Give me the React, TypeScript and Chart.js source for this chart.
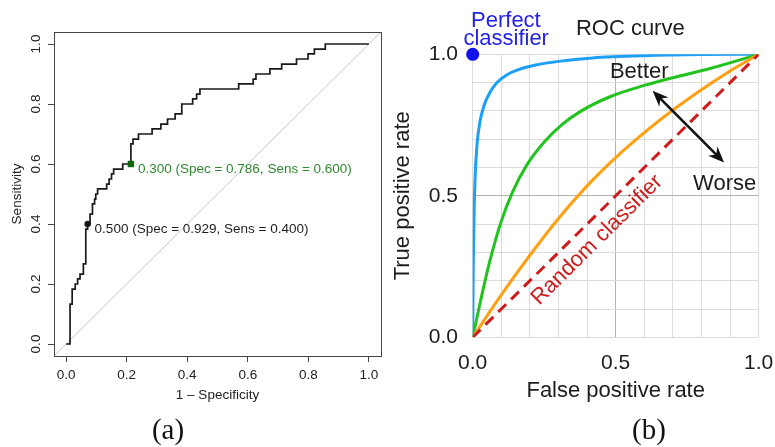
import React, { useEffect, useRef } from 'react';
import { Chart, registerables } from 'chart.js';

Chart.register(...registerables);

const SANS = '"Liberation Sans", Arial, Helvetica, sans-serif';
const SERIF = '"Liberation Serif", "Times New Roman", Times, serif';

// ---------- Panel (a): empirical ROC curve ----------
// 1 - specificity at which sensitivity rises, and the sensitivity after the rise
const rocFpr = [0, 0.013, 0.02, 0.03, 0.038, 0.046, 0.057, 0.065, 0.071, 0.079, 0.087, 0.094, 0.098, 0.104, 0.134, 0.142, 0.15, 0.157, 0.187, 0.214, 0.221, 0.239, 0.284, 0.313, 0.335, 0.36, 0.382, 0.418, 0.431, 0.442, 0.57, 0.618, 0.627, 0.673, 0.712, 0.761, 0.799, 0.82, 0.856, 1];
const rocSens = [0, 0.133, 0.183, 0.2, 0.217, 0.233, 0.267, 0.383, 0.4, 0.433, 0.467, 0.483, 0.5, 0.517, 0.533, 0.55, 0.567, 0.583, 0.6, 0.667, 0.683, 0.7, 0.717, 0.733, 0.75, 0.767, 0.8, 0.817, 0.833, 0.85, 0.867, 0.883, 0.9, 0.917, 0.933, 0.95, 0.967, 0.983, 1, 1];
const chanceEnds = [-0.04, 1.04];
const ticksA = [0, 0.2, 0.4, 0.6, 0.8, 1];
// printed thresholds
const cutValues = [0.5, 0.3];
const cutSpec = [0.929, 0.786];
const cutSens = [0.4, 0.6];

// ---------- Panel (b): schematic ROC curves ----------
const excellentFpr = [0, 0.002, 0.005, 0.009, 0.015, 0.025, 0.04, 0.06, 0.085, 0.12, 0.16, 0.22, 0.3, 0.42, 0.6, 0.8, 1];
const excellentTpr = [0, 0.25, 0.45, 0.58, 0.68, 0.76, 0.82, 0.865, 0.9, 0.928, 0.946, 0.962, 0.975, 0.987, 0.995, 0.999, 1];
const goodFpr = [0, 0.03, 0.06, 0.1, 0.14, 0.19, 0.25, 0.31, 0.38, 0.48, 0.6, 0.71, 0.83, 1];
const goodTpr = [0, 0.14, 0.27, 0.41, 0.515, 0.61, 0.69, 0.75, 0.8, 0.85, 0.89, 0.92, 0.95, 1];
const fairFpr = [0, 0.1, 0.2, 0.3, 0.4, 0.5, 0.6, 0.7, 0.8, 0.9, 1];
const fairTpr = [0, 0.15, 0.29, 0.42, 0.535, 0.635, 0.723, 0.803, 0.875, 0.941, 1];
const randomRate = [0, 1];
const perfectPoint = [0, 1];
const gridB = [0, 0.1, 0.2, 0.3, 0.4, 0.5, 0.6, 0.7, 0.8, 0.9, 1];
const labeledB = [0, 0.5, 1];

const INK = '#1c1c1c';
const BLUE_TEXT = '#2323e8';
const RED = '#cf1b1b';

// text placement for panel (b), in axis units
const notesB = [
  { text: 'Perfect', x: 0.116, y: 1.0975, color: BLUE_TEXT },
  { text: 'classifier', x: 0.117, y: 1.033, color: BLUE_TEXT },
  { text: 'ROC curve', x: 0.551, y: 1.068, color: INK },
  { text: 'Better', x: 0.5825, y: 0.918, color: INK },
  { text: 'Worse', x: 0.881, y: 0.522, color: INK },
];
const diagNote = { text: 'Random classifier', x: 0.435, y: 0.344 };
const arrowEnds = { x1: 0.629, y1: 0.871, x2: 0.879, y2: 0.618 };

const pts = (xs: number[], ys: number[]) => xs.map((x, i) => ({ x, y: ys[i] }));

// ---------- panel (a) plugins ----------
const boxPlugin = {
  id: 'frameBox',
  afterDatasetsDraw(chart: any) {
    const { ctx, chartArea: a } = chart;
    ctx.save();
    ctx.strokeStyle = '#444';
    ctx.lineWidth = 1;
    ctx.strokeRect(Math.round(a.left) + 0.5, Math.round(a.top) + 0.5, Math.round(a.right - a.left), Math.round(a.bottom - a.top));
    ctx.restore();
  },
};

const sideLabels = {
  id: 'sideLabels',
  afterDraw(chart: any) {
    const { ctx } = chart;
    const y = chart.scales.y;
    ctx.save();
    ctx.font = `13.5px ${SANS}`;
    ctx.fillStyle = '#222';
    ctx.textAlign = 'center';
    ctx.textBaseline = 'middle';
    y.ticks.forEach((t: any) => {
      ctx.save();
      ctx.translate(y.right - 18, y.getPixelForValue(t.value));
      ctx.rotate(-Math.PI / 2);
      ctx.fillText(Number(t.value).toFixed(1), 0, 0);
      ctx.restore();
    });
    ctx.restore();
  },
};

const cutLabels = {
  id: 'cutLabels',
  afterDatasetsDraw(chart: any) {
    const { ctx } = chart;
    const { x, y } = chart.scales;
    const colors = ['#1e1e1e', '#2f8a2f'];
    ctx.save();
    ctx.font = `13.5px ${SANS}`;
    ctx.textAlign = 'left';
    ctx.textBaseline = 'middle';
    cutValues.forEach((c, i) => {
      const px = x.getPixelForValue(1 - cutSpec[i]);
      const py = y.getPixelForValue(cutSens[i]);
      ctx.fillStyle = colors[i];
      ctx.fillText(`${c.toFixed(3)} (Spec = ${cutSpec[i].toFixed(3)}, Sens = ${cutSens[i].toFixed(3)})`, px + 7, py + 5);
    });
    ctx.restore();
  },
};

function buildPanelA(): any {
  const tickFont = { family: SANS, size: 13.5 };
  return {
    type: 'line',
    data: {
      datasets: [
        {
          data: pts(rocFpr, rocSens),
          stepped: true,
          borderColor: '#1a1a1a',
          borderWidth: 1.7,
          pointRadius: 0,
          fill: false,
          order: 1,
        },
        {
          data: chanceEnds.map((v) => ({ x: v, y: v })),
          borderColor: '#c6c6c6',
          borderWidth: 1,
          pointRadius: 0,
          fill: false,
          order: 2,
        },
        {
          data: cutValues.map((_, i) => ({ x: 1 - cutSpec[i], y: cutSens[i] })),
          showLine: false,
          pointStyle: ['circle', 'rect'],
          pointRadius: [3, 4.2],
          pointBackgroundColor: ['#111111', '#0b660b'],
          pointBorderColor: ['#111111', '#0b660b'],
          pointBorderWidth: 0.5,
          order: 0,
          clip: false,
        },
      ],
    },
    options: {
      animation: false,
      responsive: false,
      events: [],
      layout: { padding: { left: 0, top: 32, right: 9, bottom: 31 } },
      plugins: { legend: { display: false }, tooltip: { enabled: false } },
      scales: {
        x: {
          type: 'linear',
          min: -0.04,
          max: 1.04,
          bounds: 'data',
          afterBuildTicks: (s: any) => { s.ticks = ticksA.map((v) => ({ value: v })); },
          afterFit: (s: any) => { s.height = 60; s.paddingLeft = 0; s.paddingRight = 0; },
          ticks: { autoSkip: false, maxRotation: 0, padding: 5, font: tickFont, color: '#222', callback: (v: number) => Number(v).toFixed(1) },
          grid: { drawOnChartArea: false, drawTicks: true, tickLength: 6, color: '#444', lineWidth: 1 },
          border: { display: false },
          title: { display: true, text: '1 \u2013 Specificity', font: tickFont, color: '#222', padding: { top: 0, bottom: 13 } },
        },
        y: {
          type: 'linear',
          min: -0.04,
          max: 1.04,
          bounds: 'data',
          afterBuildTicks: (s: any) => { s.ticks = ticksA.map((v) => ({ value: v })); },
          afterFit: (s: any) => { s.width = 54; s.paddingTop = 0; s.paddingBottom = 0; },
          ticks: { display: false },
          grid: { drawOnChartArea: false, drawTicks: true, tickLength: 6, color: '#444', lineWidth: 1 },
          border: { display: false },
          title: { display: true, text: 'Sensitivity', font: tickFont, color: '#222', padding: { top: 9.4, bottom: 0 } },
        },
      },
    },
    plugins: [boxPlugin, sideLabels, cutLabels],
  };
}

// ---------- panel (b) plugins ----------
function arrowHead(ctx: CanvasRenderingContext2D, tx: number, ty: number, ang: number) {
  const len = 16, half = 6.5, notch = 11;
  const c = Math.cos(ang), s = Math.sin(ang);
  ctx.beginPath();
  ctx.moveTo(tx, ty);
  ctx.lineTo(tx - len * c + half * s, ty - len * s - half * c);
  ctx.lineTo(tx - notch * c, ty - notch * s);
  ctx.lineTo(tx - len * c - half * s, ty - len * s + half * c);
  ctx.closePath();
  ctx.fill();
}

const notesPlugin = {
  id: 'rocNotes',
  afterDatasetsDraw(chart: any) {
    const { ctx } = chart;
    const { x, y } = chart.scales;
    ctx.save();
    ctx.font = `22px ${SANS}`;
    ctx.textAlign = 'center';
    ctx.textBaseline = 'alphabetic';
    notesB.forEach((n) => {
      ctx.fillStyle = n.color;
      ctx.fillText(n.text, x.getPixelForValue(n.x), y.getPixelForValue(n.y));
    });

    // label running along the chance diagonal
    const ang = Math.atan2(y.getPixelForValue(1) - y.getPixelForValue(0), x.getPixelForValue(1) - x.getPixelForValue(0));
    ctx.save();
    ctx.translate(x.getPixelForValue(diagNote.x), y.getPixelForValue(diagNote.y));
    ctx.rotate(ang);
    ctx.textBaseline = 'middle';
    ctx.fillStyle = RED;
    ctx.fillText(diagNote.text, 0, 0);
    ctx.restore();

    // double-headed arrow between "Better" and "Worse"
    const ax1 = x.getPixelForValue(arrowEnds.x1), ay1 = y.getPixelForValue(arrowEnds.y1);
    const ax2 = x.getPixelForValue(arrowEnds.x2), ay2 = y.getPixelForValue(arrowEnds.y2);
    const dir = Math.atan2(ay2 - ay1, ax2 - ax1);
    ctx.strokeStyle = '#111';
    ctx.fillStyle = '#111';
    ctx.lineWidth = 2.6;
    ctx.beginPath();
    ctx.moveTo(ax1 + 10 * Math.cos(dir), ay1 + 10 * Math.sin(dir));
    ctx.lineTo(ax2 - 10 * Math.cos(dir), ay2 - 10 * Math.sin(dir));
    ctx.stroke();
    arrowHead(ctx, ax2, ay2, dir);
    arrowHead(ctx, ax1, ay1, dir + Math.PI);
    ctx.restore();
  },
};

function buildPanelB(): any {
  const tickFont = { family: SANS, size: 21 };
  const titleFont = { family: SANS, size: 22 };
  const gridColor = (c: any) => (c.tick && c.tick.value === 0.5 ? '#b2b2b2' : '#dcdcdc');
  const label = (v: number) => (labeledB.some((t) => Math.abs(t - v) < 1e-9) ? Number(v).toFixed(1) : '');
  return {
    type: 'line',
    data: {
      datasets: [
        {
          data: randomRate.map((v) => ({ x: v, y: v })),
          borderColor: RED,
          borderWidth: 3,
          borderDash: [11, 7],
          pointRadius: 0,
          fill: false,
          order: 0,
        },
        {
          data: pts(fairFpr, fairTpr),
          borderColor: '#ffa012',
          borderWidth: 3,
          cubicInterpolationMode: 'monotone',
          pointRadius: 0,
          fill: false,
          order: 1,
        },
        {
          data: pts(goodFpr, goodTpr),
          borderColor: '#22c31e',
          borderWidth: 3,
          cubicInterpolationMode: 'monotone',
          pointRadius: 0,
          fill: false,
          order: 2,
        },
        {
          data: pts(excellentFpr, excellentTpr),
          borderColor: '#1c9ff7',
          borderWidth: 3,
          cubicInterpolationMode: 'monotone',
          pointRadius: 0,
          fill: false,
          order: 3,
        },
        {
          data: [{ x: perfectPoint[0], y: perfectPoint[1] }],
          showLine: false,
          pointRadius: 6.5,
          pointBackgroundColor: '#1010f0',
          pointBorderColor: '#1010f0',
          pointBorderWidth: 0,
          order: -1,
          clip: false,
        },
      ],
    },
    options: {
      animation: false,
      responsive: false,
      events: [],
      layout: { padding: { left: 0, top: 54.3, right: 16.3, bottom: 39.7 } },
      plugins: { legend: { display: false }, tooltip: { enabled: false } },
      scales: {
        x: {
          type: 'linear',
          min: 0,
          max: 1,
          bounds: 'data',
          afterBuildTicks: (s: any) => { s.ticks = gridB.map((v) => ({ value: v })); },
          afterFit: (s: any) => { s.height = 70; s.paddingLeft = 0; s.paddingRight = 0; },
          ticks: { autoSkip: false, maxRotation: 0, padding: 13, font: tickFont, color: INK, callback: label },
          grid: { drawTicks: false, color: gridColor, lineWidth: 1 },
          border: { display: false },
          title: { display: true, text: 'False positive rate', font: titleFont, color: INK, padding: { top: 0, bottom: 3.6 } },
        },
        y: {
          type: 'linear',
          min: 0,
          max: 1,
          bounds: 'data',
          afterBuildTicks: (s: any) => { s.ticks = gridB.map((v) => ({ value: v })); },
          afterFit: (s: any) => { s.width = 82.7; s.paddingTop = 0; s.paddingBottom = 0; },
          ticks: { autoSkip: false, padding: 14.7, font: tickFont, color: INK, callback: label },
          grid: { drawTicks: false, color: gridColor, lineWidth: 1 },
          border: { display: false },
          title: { display: true, text: 'True positive rate', font: titleFont, color: INK, padding: { top: 0, bottom: 0 } },
        },
      },
    },
    plugins: [notesPlugin],
  };
}

export default function App() {
  const aRef = useRef<HTMLCanvasElement>(null);
  const bRef = useRef<HTMLCanvasElement>(null);

  useEffect(() => {
    const a = new Chart(aRef.current as HTMLCanvasElement, buildPanelA());
    const b = new Chart(bRef.current as HTMLCanvasElement, buildPanelB());
    return () => {
      a.destroy();
      b.destroy();
    };
  }, []);

  const caption: React.CSSProperties = {
    position: 'absolute',
    top: 429,
    transform: 'translate(-50%, -50%)',
    font: `29px ${SERIF}`,
    lineHeight: 1,
    color: '#111',
    whiteSpace: 'nowrap',
  };

  return (
    <div style={{ position: 'fixed', left: 0, top: 0, width: 775, height: 447, background: '#fff', overflow: 'hidden' }}>
      <canvas ref={aRef} width={390} height={447} style={{ position: 'absolute', left: 0, top: 0, display: 'block' }} />
      <canvas ref={bRef} width={385} height={447} style={{ position: 'absolute', left: 390, top: 0, display: 'block' }} />
      <div style={{ ...caption, left: 168 }}>(a)</div>
      <div style={{ ...caption, left: 649 }}>(b)</div>
    </div>
  );
}
